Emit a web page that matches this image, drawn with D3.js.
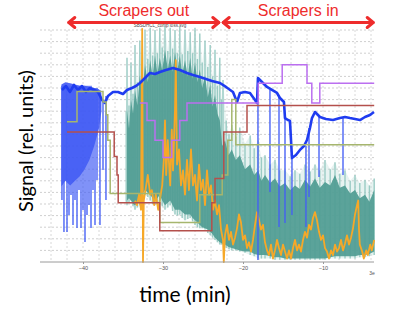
<!DOCTYPE html>
<html>
<head>
<meta charset="utf-8">
<script src="https://cdn.jsdelivr.net/npm/d3@7"></script>
<style>
body { margin: 0; background: #fff; }
svg { display: block; font-family: Lato, "Liberation Sans", sans-serif; }
</style>
</head>
<body>
<div id="chart"></div>
<script>
// time in minutes, signal in relative units
var xTicks = [-40, -30, -20, -10];

var phases = [
    { label: "Scrapers out", start: -41.9, end: -22.9 },
    { label: "Scrapers in", start: -22.6, end: -3.6 }
];

var blueLine = [
    [-42.63, 14.83], [-42.13, 15.17], [-41.63, 14.66], [-41.13, 15.26], [-40.63, 14.83],
    [-40.13, 15.17], [-39.63, 14.66], [-39.13, 15.0], [-38.63, 14.83], [-38.13, 14.66],
    [-37.63, 13.97], [-37.25, 13.71], [-36.88, 14.31], [-36.25, 14.66], [-35.63, 14.66],
    [-35.0, 14.48], [-34.5, 14.83], [-33.88, 15.0], [-33.38, 15.17], [-32.88, 15.43],
    [-32.25, 15.86], [-31.63, 16.29], [-31.0, 16.21], [-30.38, 16.38], [-29.63, 16.55],
    [-28.75, 16.72], [-27.88, 16.55], [-27.0, 16.29], [-26.25, 16.12], [-25.38, 15.95],
    [-24.63, 15.78], [-23.88, 15.6], [-22.88, 15.43], [-22.13, 15.09], [-21.25, 14.66],
    [-20.75, 13.79], [-20.38, 14.57], [-19.75, 14.66], [-19.13, 14.57], [-18.5, 13.97],
    [-18.25, 13.71], [-18.13, 15.86], [-17.63, 15.52], [-17.0, 15.09], [-16.38, 14.83],
    [-15.75, 14.57], [-15.38, 14.14], [-14.88, 13.79], [-14.75, 12.41], [-14.38, 12.24],
    [-14.13, 12.16], [-13.88, 8.97], [-13.38, 9.22], [-12.88, 9.66], [-12.38, 10.0],
    [-12.0, 10.52], [-11.63, 11.55], [-11.38, 12.41], [-11.0, 12.93], [-10.38, 12.5],
    [-9.63, 12.33], [-8.75, 12.24], [-7.88, 12.41], [-7.25, 12.5], [-6.63, 12.41],
    [-6.0, 12.33], [-5.38, 12.24], [-4.75, 12.5], [-4.13, 12.67], [-3.63, 12.93]
];

// dense start of the blue trace: [time, top, bottom]
var blueBlock = [
    [-42.7, 15.3, 6.5], [-42.2, 15.5, 7.0], [-41.6, 15.4, 6.6], [-41.0, 15.3, 7.0],
    [-40.4, 15.2, 7.4], [-39.8, 15.2, 8.0], [-39.2, 15.1, 8.8], [-38.6, 15.0, 10.0],
    [-38.0, 14.9, 11.5], [-37.7, 14.6, 13.0]
];

// drop-outs of the blue trace: [time, top, bottom]
var blueSpikes = [
    [-42.63, 15.2, 5.34], [-42.38, 15.2, 2.59], [-42.13, 15.2, 7.07], [-42.0, 15.2, 2.59],
    [-41.75, 15.2, 4.05], [-41.5, 15.2, 5.78], [-41.25, 15.2, 3.19], [-41.0, 15.2, 5.34],
    [-40.75, 15.2, 2.93], [-40.5, 15.2, 6.21], [-40.25, 15.2, 2.93], [-40.0, 15.2, 4.48],
    [-39.75, 15.2, 1.72], [-39.5, 15.2, 4.05], [-39.25, 15.2, 4.91], [-39.0, 15.2, 2.93],
    [-38.75, 15.0, 6.21], [-38.5, 15.0, 3.19], [-38.25, 15.0, 7.07], [-37.88, 14.8, 3.19],
    [-37.5, 14.0, 7.93], [-37.13, 14.3, 5.34],
    [-18.13, 15.86, 0.17], [-16.63, 14.83, 6.03], [-15.5, 14.31, 3.02], [-14.75, 12.41, 3.36],
    [-13.88, 8.97, 4.05], [-12.13, 10.0, 3.02], [-11.75, 11.55, 5.6], [-10.5, 12.5, 7.33],
    [-7.5, 12.41, 7.5]
];

// teal trace envelopes: [time, high, low]
var tealOuter = [
    [-34.6, 13.0, 5.2], [-34.5, 17.6, 4.9], [-34.25, 13.5, 5.1], [-34.0, 17.2, 5.3],
    [-33.75, 14.5, 4.8], [-33.5, 18.7, 4.5], [-33.2, 15.5, 4.7], [-32.9, 19.1, 4.9],
    [-32.6, 16.5, 5.5], [-32.25, 20.0, 5.8], [-31.9, 17.5, 5.6], [-31.6, 20.2, 5.3],
    [-31.3, 17.8, 5.0], [-31.0, 20.0, 4.9], [-30.7, 18.0, 5.1], [-30.4, 20.2, 5.3],
    [-30.1, 18.5, 4.8], [-29.75, 20.3, 4.5], [-29.4, 18.2, 4.7], [-29.1, 20.2, 4.9],
    [-28.8, 18.4, 4.4], [-28.5, 20.0, 4.1], [-28.2, 18.0, 4.0], [-27.9, 20.3, 4.1],
    [-27.6, 17.9, 3.8], [-27.25, 20.0, 3.6], [-26.9, 18.2, 3.7], [-26.6, 19.8, 3.8],
    [-26.3, 18.0, 3.5], [-26.0, 20.2, 3.2], [-25.7, 17.5, 3.0], [-25.4, 19.7, 2.9],
    [-25.1, 17.2, 2.9], [-24.75, 19.1, 2.8], [-24.4, 16.8, 2.5], [-24.1, 18.7, 2.3],
    [-23.8, 16.0, 2.1], [-23.5, 18.3, 1.9], [-23.2, 15.2, 1.7], [-22.9, 17.6, 1.5],
    [-22.7, 14.0, 1.5], [-22.5, 15.7, 1.5], [-22.1, 12.2, 1.2], [-21.75, 11.0, 1.1],
    [-21.4, 11.8, 1.0], [-20.9, 10.8, 1.0], [-20.4, 11.6, 0.9], [-19.75, 10.2, 0.8],
    [-19.1, 10.9, 0.6], [-18.6, 9.8, 0.5], [-18.1, 10.5, 0.3], [-17.7, 9.0, 0.3],
    [-17.25, 9.2, 0.3], [-16.6, 8.4, 0.3], [-16.0, 8.8, 0.2], [-15.4, 7.9, 0.2],
    [-14.75, 7.9, 0.2], [-14.1, 7.4, 0.2], [-13.5, 7.9, 0.2], [-12.9, 7.6, 0.2],
    [-12.25, 8.4, 0.2], [-11.6, 7.8, 0.2], [-11.0, 8.4, 0.2], [-10.4, 7.9, 0.2],
    [-9.75, 8.8, 0.2], [-9.1, 8.0, 0.3], [-8.5, 8.6, 0.3], [-7.9, 7.6, 0.3],
    [-7.25, 7.9, 0.3], [-6.6, 7.0, 0.3], [-6.0, 7.5, 0.3], [-5.4, 6.8, 0.4],
    [-4.75, 7.1, 0.4], [-4.2, 6.6, 0.5], [-3.6, 7.2, 0.6]
];

var tealInner = [
    [-34.5, 13.1, 5.3], [-34.25, 11.5, 5.5], [-34.0, 14.0, 5.3], [-33.75, 12.8, 5.0],
    [-33.5, 14.8, 4.9], [-33.2, 13.5, 5.1], [-32.9, 16.1, 5.3], [-32.6, 14.5, 5.8],
    [-32.25, 17.0, 6.2], [-31.9, 15.5, 6.0], [-31.6, 17.4, 5.8], [-31.3, 16.0, 5.5],
    [-31.0, 17.8, 5.3], [-30.7, 16.2, 5.5], [-30.4, 17.6, 5.8], [-30.1, 16.5, 5.3],
    [-29.75, 18.3, 4.9], [-29.4, 16.6, 5.1], [-29.1, 17.8, 5.3], [-28.8, 16.4, 4.9],
    [-28.5, 18.1, 4.5], [-28.2, 16.5, 4.5], [-27.9, 17.8, 4.5], [-27.6, 16.2, 4.3],
    [-27.25, 17.4, 4.1], [-26.9, 16.0, 4.1], [-26.6, 17.6, 4.1], [-26.3, 15.8, 3.8],
    [-26.0, 17.2, 3.6], [-25.7, 15.5, 3.4], [-25.4, 16.6, 3.2], [-25.1, 15.0, 3.0],
    [-24.75, 16.1, 2.9], [-24.4, 14.2, 2.8], [-24.1, 15.3, 2.6], [-23.8, 13.4, 2.4],
    [-23.5, 14.4, 2.1], [-23.2, 12.8, 1.9], [-22.9, 12.2, 1.7], [-22.6, 10.0, 1.6],
    [-22.25, 10.5, 1.5], [-21.8, 9.2, 1.3], [-21.4, 9.7, 1.2], [-20.9, 8.8, 1.1],
    [-20.4, 9.2, 1.0], [-19.75, 8.0, 0.9], [-19.1, 8.4, 0.9], [-18.6, 7.5, 0.7],
    [-18.1, 7.9, 0.6], [-17.7, 7.0, 0.6], [-17.25, 7.5, 0.6], [-16.6, 6.8, 0.5],
    [-16.0, 7.2, 0.4], [-15.4, 6.5, 0.4], [-14.75, 6.8, 0.3], [-14.1, 6.2, 0.3],
    [-13.5, 6.6, 0.3], [-12.9, 6.3, 0.3], [-12.25, 7.1, 0.3], [-11.6, 6.5, 0.3],
    [-11.0, 7.2, 0.3], [-10.4, 6.4, 0.3], [-9.75, 6.9, 0.3], [-9.1, 6.6, 0.4],
    [-8.5, 7.5, 0.5], [-7.9, 6.4, 0.5], [-7.25, 6.6, 0.5], [-6.6, 5.9, 0.5],
    [-6.0, 6.2, 0.5], [-5.4, 5.5, 0.6], [-4.75, 5.8, 0.6], [-4.2, 5.2, 0.7],
    [-3.6, 6.2, 0.9]
];

var orangeLine = [
    [-33.5, 5.3], [-33.25, 4.9], [-33.0, 5.8], [-32.75, 4.5], [-32.6, 20.1], [-32.5, 0],
    [-32.4, 5.3], [-32.1, 6.6], [-31.9, 7.5], [-31.6, 5.8], [-31.4, 6.2], [-31.1, 4.9],
    [-30.9, 5.8], [-30.6, 4.5], [-30.4, 5.3], [-30.1, 6.6], [-29.9, 8.8], [-29.75, 12.2],
    [-29.6, 7.5], [-29.4, 10.5], [-29.1, 6.6], [-28.9, 11.4], [-28.75, 7.9], [-28.5, 13.1],
    [-28.4, 17.4], [-28.25, 8.4], [-28.0, 9.7], [-27.75, 6.6], [-27.5, 7.9], [-27.25, 5.8],
    [-27.0, 8.8], [-26.75, 6.2], [-26.5, 9.7], [-26.25, 6.6], [-26.0, 7.5], [-25.75, 5.3],
    [-25.5, 8.4], [-25.25, 6.2], [-25.0, 7.1], [-24.75, 4.9], [-24.5, 7.9], [-24.25, 5.8],
    [-24.0, 6.6], [-23.75, 4.5], [-23.5, 5.3], [-23.25, 4.1], [-23.0, 4.9], [-22.75, 2.8],
    [-22.5, 1.9], [-22.4, 0], [-22.25, 2.3], [-22.0, 3.2], [-21.75, 1.9], [-21.5, 2.6],
    [-21.25, 1.5], [-21.0, 2.1], [-20.75, 2.9], [-20.5, 4.1], [-20.25, 3.4], [-20.0, 1.9],
    [-19.75, 2.3], [-19.5, 1.2], [-19.25, 1.7], [-19.0, 0.9], [-18.75, 1.9], [-18.5, 3.2],
    [-18.25, 4.3], [-18.0, 3.6], [-17.75, 2.8], [-17.5, 3.2], [-17.25, 1.7], [-17.0, 1.0],
    [-16.75, 0.6], [-16.5, 1.5], [-16.25, 0.3], [-16.0, 1.0], [-15.75, 1.9], [-15.5, 1.2],
    [-15.25, 0.6], [-15.0, 1.5], [-14.75, 0.9], [-14.5, 0.3], [-14.25, 1.0], [-14.0, 0.3],
    [-13.75, 1.2], [-13.5, 1.9], [-13.25, 1.0], [-13.0, 1.5], [-12.75, 0.9], [-12.5, 1.9],
    [-12.25, 2.6], [-12.0, 2.1], [-11.75, 3.2], [-11.5, 2.8], [-11.25, 3.8], [-11.0, 4.3],
    [-10.75, 3.6], [-10.5, 2.6], [-10.25, 1.9], [-10.0, 2.3], [-9.75, 1.2], [-9.5, 0.9],
    [-9.25, 0.3], [-9.0, 1.0], [-8.75, 0.6], [-8.5, 1.5], [-8.25, 0.9], [-8.0, 1.2],
    [-7.75, 1.9], [-7.5, 1.0], [-7.25, 1.6], [-7.0, 2.3], [-6.75, 1.5], [-6.5, 2.1],
    [-6.25, 2.9], [-6.0, 4.1], [-5.75, 4.9], [-5.6, 5.3], [-5.5, 2.8], [-5.4, 1.5],
    [-5.1, 0.9], [-4.9, 0.3], [-4.6, 1.0], [-4.4, 0.6], [-4.1, 1.5], [-3.9, 1.0],
    [-3.6, 1.9]
];

// step traces: [time, level] held until the next point
var purpleSteps = [
    [-32.9, 13.7], [-32.0, 12.2], [-31.0, 10.5], [-30.0, 9.0], [-28.9, 10.5], [-27.9, 12.2],
    [-27.0, 13.7], [-18.1, 15.4], [-15.1, 17.0], [-12.0, 15.4], [-11.4, 13.7], [-10.4, 15.4],
    [-3.6, 15.4]
];

var redSteps = [
    [-42.0, 11.2], [-36.1, 9.1], [-35.75, 7.5], [-35.6, 5.1], [-30.4, 2.7], [-23.9, 5.1],
    [-23.5, 7.2], [-22.4, 11.2], [-19.5, 13.5], [-3.6, 13.5]
];

var oliveSteps = [
    [-42.0, 12.1], [-40.75, 14.7], [-37.5, 13.8], [-37.1, 12.7], [-36.9, 10.5], [-36.6, 5.9],
    [-30.4, 3.4], [-25.4, 5.8], [-22.6, 7.5], [-21.9, 10.5], [-21.4, 14.0], [-20.9, 10.1],
    [-3.6, 10.1]
];

var width = 408,
    height = 313;

var x = d3.scaleLinear().domain([-45.375, -3.625]).range([40, 374]);
var y = d3.scaleLinear().domain([0, 20]).range([262, 30]);

var svg = d3.select("#chart").append("svg")
    .attr("width", width)
    .attr("height", height);

// grid
svg.append("g")
    .selectAll("line")
    .data(d3.range(1, 21))
    .enter()
    .append("line")
    .attr("x1", 40).attr("x2", 374)
    .attr("y1", function (d) { return y(d); })
    .attr("y2", function (d) { return y(d); })
    .attr("stroke", "#cfcfcf")
    .attr("stroke-dasharray", "2,2");

svg.append("g")
    .selectAll("line")
    .data(d3.range(-44, -3, 2))
    .enter()
    .append("line")
    .attr("x1", function (d) { return x(d); })
    .attr("x2", function (d) { return x(d); })
    .attr("y1", y(20)).attr("y2", y(0))
    .attr("stroke", "#d8d8d8")
    .attr("stroke-dasharray", "2,2");

// teal
var band = d3.area()
    .x(function (d) { return x(d[0]); })
    .y0(function (d) { return y(d[2]); })
    .y1(function (d) { return y(d[1]); });

svg.append("path")
    .datum(tealOuter)
    .attr("d", band)
    .attr("fill", "#b9dcd7")
    .attr("opacity", 0.35);

svg.append("g")
    .selectAll("line")
    .data(tealOuter)
    .enter()
    .append("line")
    .attr("x1", function (d) { return x(d[0]); })
    .attr("x2", function (d) { return x(d[0]); })
    .attr("y1", function (d) { return y(d[1]); })
    .attr("y2", function (d) { return y(d[2]); })
    .attr("stroke", "#9acbc4")
    .attr("stroke-width", 1.4);

svg.append("path")
    .datum(tealInner)
    .attr("d", band)
    .attr("fill", "#4f9c93")
    .attr("opacity", 0.92);

// orange
var line = d3.line()
    .x(function (d) { return x(d[0]); })
    .y(function (d) { return y(d[1]); });

svg.append("path")
    .datum(orangeLine)
    .attr("d", line)
    .attr("fill", "none")
    .attr("stroke", "#f6a828")
    .attr("stroke-width", 1.8)
    .attr("stroke-linejoin", "round");

// blue
svg.append("path")
    .datum(blueBlock)
    .attr("d", band)
    .attr("fill", "#2b45f2")
    .attr("opacity", 0.8);

svg.append("g")
    .selectAll("line")
    .data(blueSpikes)
    .enter()
    .append("line")
    .attr("x1", function (d) { return x(d[0]); })
    .attr("x2", function (d) { return x(d[0]); })
    .attr("y1", function (d) { return y(d[1]); })
    .attr("y2", function (d) { return y(d[2]); })
    .attr("stroke", "#4560f5")
    .attr("stroke-width", 1.6)
    .attr("opacity", 0.85);

svg.append("path")
    .datum(blueLine)
    .attr("d", line)
    .attr("fill", "none")
    .attr("stroke", "#1f3cf0")
    .attr("stroke-width", 2.6)
    .attr("stroke-linejoin", "round");

// step traces
var step = d3.line()
    .curve(d3.curveStepAfter)
    .x(function (d) { return x(d[0]); })
    .y(function (d) { return y(d[1]); });

[[oliveSteps, "#a6b66e"], [redSteps, "#b4504c"], [purpleSteps, "#bb6ff0"]].forEach(function (s) {
    svg.append("path")
        .datum(s[0])
        .attr("d", step)
        .attr("fill", "none")
        .attr("stroke", s[1])
        .attr("stroke-width", 1.5);
});

// x axis
svg.append("line")
    .attr("x1", 40).attr("x2", 374)
    .attr("y1", y(0)).attr("y2", y(0))
    .attr("stroke", "#9a9a9a");

var xAxis = svg.append("g")
    .attr("transform", "translate(0," + y(0) + ")")
    .call(d3.axisBottom(x).tickValues(xTicks).tickSize(2).tickPadding(2));
xAxis.select(".domain").remove();
xAxis.selectAll("line").attr("stroke", "#999");
xAxis.selectAll("text")
    .attr("fill", "#555")
    .style("font-size", "5.5px")
    .style("font-family", "'Liberation Sans', sans-serif");

svg.append("text")
    .attr("x", 372).attr("y", 275)
    .attr("text-anchor", "middle")
    .attr("fill", "#555")
    .style("font-size", "5px")
    .style("font-family", "'Liberation Sans', sans-serif")
    .text("3e");

svg.append("text")
    .attr("x", 160).attr("y", 27)
    .attr("text-anchor", "middle")
    .attr("fill", "#444")
    .style("font-size", "4.5px")
    .style("font-family", "'Liberation Sans', sans-serif")
    .text("SBSDHCL_comp loss.svg");

// phase arrows
var arrowY = 22.5;
phases.forEach(function (p) {
    var x0 = x(p.start), x1 = x(p.end);
    var g = svg.append("g")
        .attr("stroke", "#ee2c2c")
        .attr("stroke-width", 3)
        .attr("fill", "none")
        .attr("stroke-linecap", "round")
        .attr("stroke-linejoin", "round");
    g.append("line")
        .attr("x1", x0 + 1).attr("x2", x1 - 1)
        .attr("y1", arrowY).attr("y2", arrowY);
    g.append("polyline")
        .attr("points", [[x0 + 7, arrowY - 5], [x0 + 1, arrowY], [x0 + 7, arrowY + 5]].join(" "));
    g.append("polyline")
        .attr("points", [[x1 - 7, arrowY - 5], [x1 - 1, arrowY], [x1 - 7, arrowY + 5]].join(" "));
    svg.append("text")
        .attr("x", (x0 + x1) / 2)
        .attr("y", 16)
        .attr("text-anchor", "middle")
        .attr("fill", "#ee2c2c")
        .style("font-size", "16px")
        .style("font-family", "'Liberation Sans', sans-serif")
        .text(p.label);
});

// axis titles
svg.append("text")
    .attr("x", 185).attr("y", 302)
    .attr("text-anchor", "middle")
    .attr("fill", "#000")
    .style("font-size", "21px")
    .text("time (min)");

svg.append("text")
    .attr("transform", "translate(33,141) rotate(-90)")
    .attr("text-anchor", "middle")
    .attr("fill", "#000")
    .style("font-size", "20px")
    .text("Signal (rel. units)");
</script>
</body>
</html>
